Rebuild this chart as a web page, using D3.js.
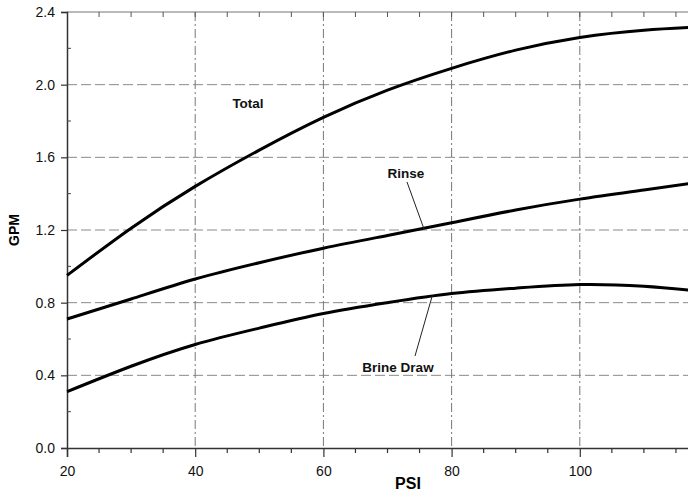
<!DOCTYPE html>
<html>
<head>
<meta charset="utf-8">
<script src="https://cdn.jsdelivr.net/npm/d3@7"></script>
<style>
  body { margin: 0; background: #fff; }
  svg { display: block; font-family: Arial, "Liberation Sans", sans-serif; }
</style>
</head>
<body>
<svg id="chart" width="688" height="496"></svg>
<script>
// values
var psi = [20, 30, 40, 50, 60, 70, 80, 90, 100, 110, 120];
var total = [0.95, 1.21, 1.44, 1.64, 1.82, 1.97, 2.09, 2.19, 2.26, 2.30, 2.32];
var rinse = [0.71, 0.82, 0.93, 1.02, 1.10, 1.17, 1.24, 1.31, 1.37, 1.42, 1.47];
var brine = [0.31, 0.45, 0.57, 0.66, 0.74, 0.80, 0.85, 0.88, 0.90, 0.89, 0.86];
var xTicks = [20, 40, 60, 80, 100];
var yTicks = [0, 0.4, 0.8, 1.2, 1.6, 2.0, 2.4];

var svg = d3.select('#chart');

var x = d3.scaleLinear().domain([20, 120]).range([67, 708]);
var y = d3.scaleLinear().domain([0, 2.4]).range([448, 12]);

var grid = svg.append('g');

// horizontal dashed grid
grid.selectAll('line.h')
  .data(yTicks.filter(function(d) { return d > 0 && d < 2.4; }))
  .enter().append('line')
  .attr('x1', x(20)).attr('x2', 688)
  .attr('y1', function(d) { return y(d); })
  .attr('y2', function(d) { return y(d); })
  .attr('stroke', '#8a8a8a')
  .attr('stroke-width', 1)
  .attr('stroke-dasharray', '10,4');

// vertical dash-dot grid
grid.selectAll('line.v')
  .data(xTicks.filter(function(d) { return d > 20; }))
  .enter().append('line')
  .attr('x1', function(d) { return x(d); })
  .attr('x2', function(d) { return x(d); })
  .attr('y1', y(2.4)).attr('y2', y(0))
  .attr('stroke', '#777')
  .attr('stroke-width', 1)
  .attr('stroke-dasharray', '9,3,2,3');

// top frame line
svg.append('line')
  .attr('x1', x(20)).attr('x2', 688).attr('y1', y(2.4)).attr('y2', y(2.4))
  .attr('stroke', '#777').attr('stroke-width', 1.2);

// bottom axis
var xAxis = d3.axisBottom(x).tickValues(xTicks).tickSize(9).tickPadding(9);
var gx = svg.append('g').attr('transform', 'translate(0,' + y(0) + ')').call(xAxis);
gx.select('.domain').attr('stroke', '#333').attr('stroke-width', 1.5);
gx.selectAll('.tick line').attr('stroke', '#333').attr('stroke-width', 1.2);
gx.selectAll('.tick text').attr('font-size', 14).attr('fill', '#111')
  .attr('font-family', 'Arial, "Liberation Sans", sans-serif');

// minor ticks bottom and top
var minorX = d3.range(25, 120, 5).filter(function(d) { return d % 20 !== 0; });
svg.append('g').selectAll('line')
  .data(minorX).enter().append('line')
  .attr('x1', function(d) { return x(d); })
  .attr('x2', function(d) { return x(d); })
  .attr('y1', y(0)).attr('y2', y(0) + 5)
  .attr('stroke', '#333').attr('stroke-width', 1.2);
svg.append('g').selectAll('line')
  .data(d3.range(25, 120, 5)).enter().append('line')
  .attr('x1', function(d) { return x(d); })
  .attr('x2', function(d) { return x(d); })
  .attr('y1', y(2.4)).attr('y2', y(2.4) + 5)
  .attr('stroke', '#555').attr('stroke-width', 1);

// left axis
var yAxis = d3.axisLeft(y).tickValues(yTicks).tickSize(6).tickPadding(6)
  .tickFormat(d3.format('.1f'));
var gy = svg.append('g').attr('transform', 'translate(' + x(20) + ',0)').call(yAxis);
gy.select('.domain').attr('stroke', '#333').attr('stroke-width', 1.5);
gy.selectAll('.tick line').attr('stroke', '#333').attr('stroke-width', 1.2);
gy.selectAll('.tick text').attr('font-size', 14).attr('fill', '#111')
  .attr('font-family', 'Arial, "Liberation Sans", sans-serif');

var minorY = [0.2, 0.6, 1.0, 1.4, 1.8, 2.2];
svg.append('g').selectAll('line')
  .data(minorY).enter().append('line')
  .attr('x1', x(20)).attr('x2', x(20) + 4)
  .attr('y1', function(d) { return y(d); })
  .attr('y2', function(d) { return y(d); })
  .attr('stroke', '#444').attr('stroke-width', 1);

// curves
var line = d3.line()
  .x(function(d) { return x(d[0]); })
  .y(function(d) { return y(d[1]); })
  .curve(d3.curveNatural);

[total, rinse, brine].forEach(function(series) {
  svg.append('path')
    .datum(d3.zip(psi, series))
    .attr('d', line)
    .attr('fill', 'none')
    .attr('stroke', '#000')
    .attr('stroke-width', 3);
});

// curve labels
var labels = svg.append('g')
  .attr('font-size', 13.5).attr('font-weight', 'bold').attr('fill', '#111');
labels.append('text').attr('x', 248).attr('y', 108).attr('text-anchor', 'middle').text('Total');
labels.append('text').attr('x', 406).attr('y', 178).attr('text-anchor', 'middle').text('Rinse');
labels.append('text').attr('x', 398).attr('y', 372).attr('text-anchor', 'middle').text('Brine Draw');

// leader lines
svg.append('line')
  .attr('x1', 407).attr('y1', 182)
  .attr('x2', x(75.7)).attr('y2', y(1.205))
  .attr('stroke', '#222').attr('stroke-width', 1);
svg.append('line')
  .attr('x1', 415).attr('y1', 356)
  .attr('x2', x(77)).attr('y2', y(0.84))
  .attr('stroke', '#222').attr('stroke-width', 1);

// axis titles
svg.append('text')
  .attr('x', 408).attr('y', 489)
  .attr('text-anchor', 'middle')
  .attr('font-size', 16).attr('font-weight', 'bold')
  .text('PSI');
svg.append('text')
  .attr('transform', 'translate(19,230) rotate(-90)')
  .attr('text-anchor', 'middle')
  .attr('font-size', 14).attr('font-weight', 'bold')
  .text('GPM');
</script>
</body>
</html>
